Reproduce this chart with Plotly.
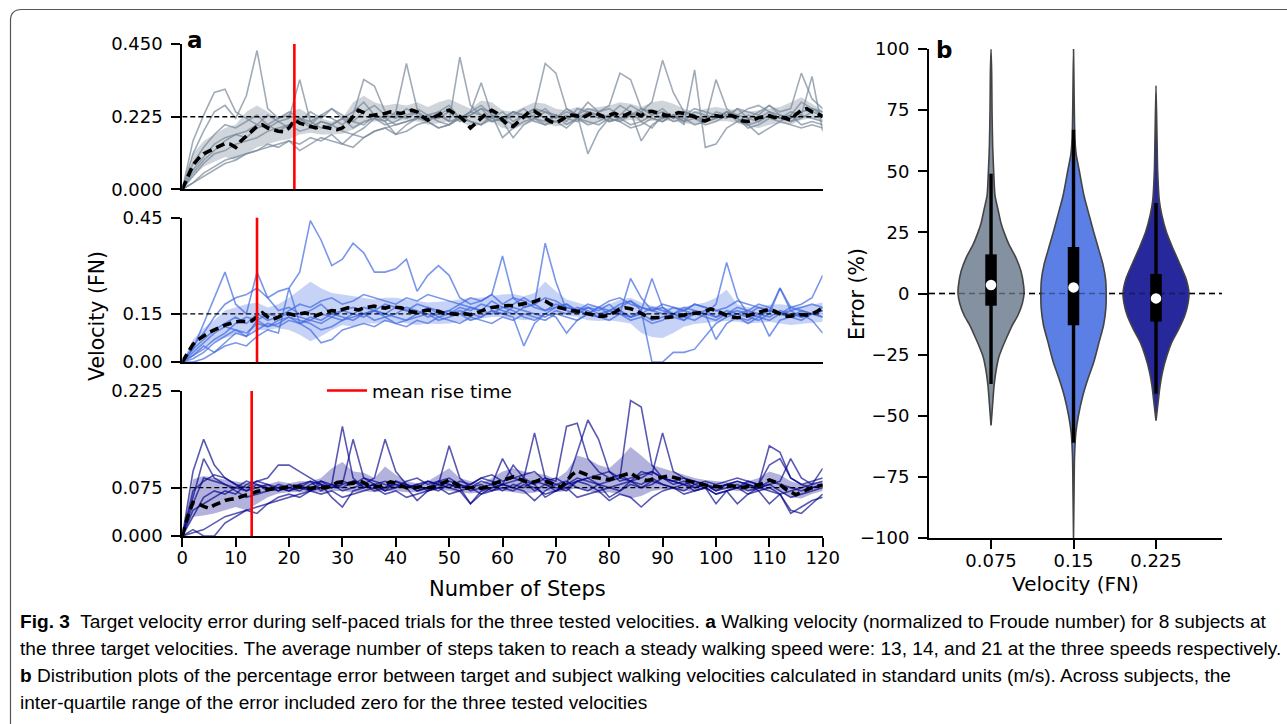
import plotly.graph_objects as go

W, H = 1287, 724
def px(x): return x / W
def py(y): return 1 - y / H

# ---------------- data ----------------
STEPS = list(range(0, 121))
SUBJ_STEPS = list(range(0, 121, 2))
TARGETS = [0.225, 0.15, 0.075]
RISE_TIMES = [21, 14, 13]
Y_MAX = [0.45, 0.45, 0.225]
Y_TICKS = [[0, 0.225, 0.45], [0, 0.15, 0.45], [0, 0.075, 0.225]]
Y_TICKTEXT = [["0.000", "0.225", "0.450"], ["0.00", "0.15", "0.45"], ["0.000", "0.075", "0.225"]]
X_TICKS = list(range(0, 121, 10))

# panel 1 (target 0.225) mean velocity, every step
P1_MEAN = [0.000, 0.040, 0.075, 0.095, 0.110, 0.118, 0.125, 0.135, 0.142, 0.140, 0.130,
           0.150, 0.165, 0.180, 0.195, 0.200, 0.190, 0.185, 0.180, 0.178, 0.190,
           0.215, 0.205, 0.200, 0.195, 0.190, 0.195, 0.192, 0.188, 0.185, 0.190,
           0.205, 0.225, 0.245, 0.238, 0.228, 0.230, 0.232, 0.235, 0.240, 0.238,
           0.235, 0.240, 0.245, 0.240, 0.225, 0.215, 0.222, 0.230, 0.242, 0.245,
           0.235, 0.225, 0.210, 0.190, 0.205, 0.220, 0.235, 0.245, 0.235, 0.215,
           0.200, 0.195, 0.210, 0.225, 0.240, 0.242, 0.230, 0.220, 0.210, 0.205,
           0.215, 0.225, 0.230, 0.228, 0.222, 0.230, 0.238, 0.232, 0.225, 0.230,
           0.235, 0.228, 0.230, 0.238, 0.235, 0.228, 0.240, 0.242, 0.238, 0.232,
           0.228, 0.232, 0.238, 0.235, 0.230, 0.225, 0.215, 0.212, 0.220, 0.228,
           0.225, 0.230, 0.228, 0.222, 0.212, 0.210, 0.215, 0.222, 0.225, 0.228,
           0.222, 0.225, 0.220, 0.215, 0.232, 0.245, 0.250, 0.240, 0.235, 0.225]
P1_BAND_LO = [0.000, 0.040, 0.070, 0.085, 0.100, 0.090, 0.110, 0.130, 0.140, 0.150,
              0.155, 0.170, 0.175, 0.170, 0.170, 0.172, 0.185, 0.205, 0.210, 0.212,
              0.210, 0.215, 0.210, 0.200, 0.205, 0.212, 0.210, 0.195, 0.200, 0.210,
              0.190, 0.185, 0.200, 0.210, 0.205, 0.195, 0.200, 0.210, 0.205, 0.210,
              0.212, 0.210, 0.215, 0.210, 0.212, 0.215, 0.210, 0.205, 0.200, 0.205,
              0.210, 0.212, 0.205, 0.195, 0.190, 0.200, 0.205, 0.200, 0.215, 0.220,
              0.210]
P1_BAND_HI = [0.000, 0.110, 0.150, 0.170, 0.190, 0.200, 0.240, 0.260, 0.240, 0.220,
              0.240, 0.250, 0.230, 0.220, 0.210, 0.220, 0.270, 0.290, 0.270, 0.260,
              0.265, 0.260, 0.270, 0.255, 0.270, 0.280, 0.265, 0.250, 0.275, 0.270,
              0.245, 0.240, 0.255, 0.270, 0.265, 0.250, 0.245, 0.255, 0.250, 0.255,
              0.260, 0.270, 0.265, 0.255, 0.270, 0.275, 0.265, 0.250, 0.240, 0.250,
              0.255, 0.250, 0.245, 0.240, 0.245, 0.250, 0.255, 0.270, 0.285, 0.265,
              0.245]
P1_SUBJECTS = [
    [0.000, 0.110, 0.180, 0.240, 0.260, 0.220, 0.290, 0.430, 0.250, 0.220,
     0.230, 0.210, 0.240, 0.220, 0.250, 0.230, 0.210, 0.240, 0.260, 0.230,
     0.220, 0.250, 0.230, 0.210, 0.240, 0.260, 0.220, 0.230, 0.250, 0.240,
     0.210, 0.230, 0.250, 0.220, 0.240, 0.230, 0.210, 0.250, 0.240, 0.220,
     0.230, 0.260, 0.240, 0.210, 0.230, 0.250, 0.220, 0.240, 0.230, 0.210,
     0.240, 0.230, 0.250, 0.220, 0.240, 0.260, 0.230, 0.220, 0.240, 0.250,
     0.230],
    [0.000, 0.020, 0.040, 0.060, 0.080, 0.090, 0.110, 0.120, 0.130, 0.140,
     0.150, 0.140, 0.160, 0.150, 0.170, 0.140, 0.130, 0.160, 0.180, 0.190,
     0.200, 0.210, 0.220, 0.230, 0.210, 0.200, 0.220, 0.240, 0.230, 0.210,
     0.220, 0.200, 0.230, 0.240, 0.220, 0.210, 0.230, 0.220, 0.200, 0.210,
     0.230, 0.220, 0.240, 0.150, 0.200, 0.220, 0.230, 0.210, 0.220, 0.200,
     0.210, 0.230, 0.220, 0.190, 0.200, 0.220, 0.210, 0.230, 0.200, 0.210,
     0.200],
    [0.000, 0.150, 0.230, 0.300, 0.310, 0.240, 0.220, 0.200, 0.230, 0.210,
     0.190, 0.220, 0.200, 0.230, 0.250, 0.220, 0.240, 0.270, 0.230, 0.210,
     0.240, 0.390, 0.250, 0.230, 0.220, 0.240, 0.210, 0.230, 0.250, 0.220,
     0.240, 0.210, 0.230, 0.250, 0.240, 0.220, 0.250, 0.230, 0.270, 0.240,
     0.250, 0.230, 0.260, 0.240, 0.270, 0.400, 0.300, 0.240, 0.230, 0.210,
     0.220, 0.240, 0.230, 0.250, 0.260, 0.240, 0.220, 0.230, 0.270, 0.250,
     0.240],
    [0.000, 0.060, 0.100, 0.140, 0.160, 0.170, 0.180, 0.200, 0.190, 0.210,
     0.220, 0.340, 0.210, 0.190, 0.200, 0.220, 0.210, 0.200, 0.230, 0.220,
     0.200, 0.210, 0.220, 0.230, 0.240, 0.210, 0.410, 0.260, 0.230, 0.210,
     0.220, 0.240, 0.230, 0.210, 0.200, 0.230, 0.220, 0.210, 0.240, 0.230,
     0.210, 0.220, 0.230, 0.240, 0.220, 0.210, 0.230, 0.240, 0.220, 0.210,
     0.220, 0.240, 0.230, 0.220, 0.210, 0.230, 0.220, 0.240, 0.230, 0.220,
     0.210],
    [0.000, 0.040, 0.080, 0.110, 0.120, 0.140, 0.150, 0.160, 0.180, 0.190,
     0.200, 0.180, 0.190, 0.210, 0.200, 0.220, 0.190, 0.210, 0.220, 0.200,
     0.210, 0.230, 0.240, 0.220, 0.230, 0.210, 0.220, 0.240, 0.260, 0.230,
     0.220, 0.240, 0.230, 0.250, 0.390, 0.360, 0.250, 0.230, 0.110, 0.180,
     0.220, 0.210, 0.230, 0.250, 0.240, 0.220, 0.230, 0.210, 0.240, 0.230,
     0.220, 0.240, 0.210, 0.230, 0.220, 0.240, 0.230, 0.210, 0.220, 0.240,
     0.230],
    [0.000, 0.080, 0.130, 0.170, 0.200, 0.190, 0.210, 0.230, 0.200, 0.220,
     0.240, 0.220, 0.210, 0.230, 0.220, 0.200, 0.230, 0.340, 0.320, 0.240,
     0.230, 0.220, 0.240, 0.210, 0.230, 0.250, 0.220, 0.240, 0.330, 0.230,
     0.210, 0.240, 0.220, 0.230, 0.250, 0.220, 0.240, 0.230, 0.250, 0.240,
     0.260, 0.360, 0.340, 0.250, 0.230, 0.240, 0.220, 0.230, 0.250, 0.240,
     0.230, 0.220, 0.250, 0.240, 0.230, 0.260, 0.240, 0.250, 0.360, 0.280,
     0.250],
    [0.000, 0.020, 0.050, 0.070, 0.090, 0.100, 0.110, 0.120, 0.140, 0.130,
     0.150, 0.120, 0.140, 0.160, 0.150, 0.140, 0.170, 0.160, 0.180, 0.190,
     0.170, 0.180, 0.200, 0.210, 0.190, 0.200, 0.220, 0.210, 0.200, 0.230,
     0.160, 0.190, 0.210, 0.220, 0.200, 0.210, 0.190, 0.220, 0.210, 0.200,
     0.220, 0.210, 0.190, 0.200, 0.220, 0.210, 0.230, 0.200, 0.370, 0.130,
     0.140, 0.190, 0.210, 0.200, 0.170, 0.190, 0.210, 0.200, 0.190, 0.200,
     0.190],
    [0.000, 0.050, 0.090, 0.120, 0.150, 0.170, 0.160, 0.190, 0.200, 0.180,
     0.200, 0.220, 0.190, 0.210, 0.200, 0.180, 0.170, 0.190, 0.220, 0.210,
     0.170, 0.200, 0.220, 0.210, 0.190, 0.200, 0.230, 0.210, 0.200, 0.220,
     0.210, 0.160, 0.200, 0.220, 0.210, 0.230, 0.200, 0.220, 0.240, 0.230,
     0.210, 0.220, 0.200, 0.210, 0.190, 0.230, 0.210, 0.220, 0.200, 0.210,
     0.340, 0.250, 0.220, 0.200, 0.210, 0.230, 0.220, 0.210, 0.230, 0.350,
     0.180],
]

# panel 2 (target 0.15)
P2_MEAN = [0.000, 0.030, 0.055, 0.070, 0.082, 0.092, 0.100, 0.108, 0.115, 0.120, 0.125,
           0.127, 0.126, 0.128, 0.140, 0.153, 0.140, 0.133, 0.140, 0.148, 0.150,
           0.146, 0.150, 0.153, 0.148, 0.144, 0.150, 0.156, 0.160, 0.158, 0.165,
           0.169, 0.166, 0.162, 0.168, 0.172, 0.174, 0.170, 0.168, 0.172, 0.170,
           0.169, 0.162, 0.156, 0.154, 0.158, 0.162, 0.160, 0.158, 0.152, 0.150,
           0.150, 0.148, 0.150, 0.147, 0.152, 0.160, 0.165, 0.170, 0.172, 0.174,
           0.176, 0.175, 0.178, 0.182, 0.184, 0.188, 0.195, 0.190, 0.180, 0.172,
           0.168, 0.163, 0.160, 0.158, 0.156, 0.150, 0.146, 0.143, 0.143, 0.146,
           0.155, 0.165, 0.169, 0.166, 0.160, 0.150, 0.142, 0.138, 0.138, 0.140,
           0.139, 0.141, 0.143, 0.146, 0.150, 0.152, 0.153, 0.158, 0.165, 0.160,
           0.152, 0.145, 0.140, 0.138, 0.140, 0.145, 0.150, 0.153, 0.158, 0.164,
           0.158, 0.150, 0.143, 0.143, 0.145, 0.148, 0.146, 0.150, 0.158, 0.169]
P2_BAND_LO = [0.000, 0.020, 0.045, 0.065, 0.075, 0.085, 0.095, 0.100, 0.100, 0.105,
              0.100, 0.085, 0.065, 0.080, 0.100, 0.115, 0.110, 0.120, 0.120, 0.125,
              0.125, 0.120, 0.115, 0.120, 0.118, 0.120, 0.125, 0.128, 0.135, 0.140,
              0.140, 0.135, 0.130, 0.135, 0.150, 0.150, 0.145, 0.140, 0.130, 0.128,
              0.130, 0.125, 0.120, 0.090, 0.078, 0.075, 0.090, 0.110, 0.118, 0.122,
              0.125, 0.128, 0.125, 0.120, 0.122, 0.125, 0.120, 0.115, 0.118, 0.122,
              0.125]
P2_BAND_HI = [0.000, 0.070, 0.105, 0.130, 0.160, 0.170, 0.180, 0.185, 0.170, 0.180,
              0.200, 0.225, 0.250, 0.230, 0.215, 0.210, 0.205, 0.200, 0.195, 0.200,
              0.200, 0.195, 0.190, 0.185, 0.188, 0.190, 0.195, 0.200, 0.200, 0.205,
              0.210, 0.212, 0.205, 0.215, 0.250, 0.220, 0.195, 0.185, 0.175, 0.172,
              0.180, 0.195, 0.200, 0.185, 0.175, 0.170, 0.168, 0.172, 0.178, 0.185,
              0.200, 0.225, 0.180, 0.170, 0.172, 0.178, 0.180, 0.175, 0.172, 0.178,
              0.185]
P2_SUBJECTS = [
    [0.000, 0.050, 0.090, 0.140, 0.180, 0.200, 0.210, 0.230, 0.200, 0.220,
     0.230, 0.280, 0.440, 0.380, 0.300, 0.320, 0.370, 0.340, 0.280, 0.280,
     0.290, 0.320, 0.220, 0.270, 0.300, 0.270, 0.200, 0.180, 0.190, 0.210,
     0.330, 0.200, 0.170, 0.180, 0.200, 0.190, 0.170, 0.160, 0.180, 0.170,
     0.160, 0.180, 0.190, 0.170, 0.160, 0.170, 0.150, 0.160, 0.180, 0.170,
     0.160, 0.150, 0.170, 0.160, 0.180, 0.170, 0.150, 0.160, 0.170, 0.180,
     0.170],
    [0.000, 0.040, 0.120, 0.200, 0.280, 0.180, 0.150, 0.280, 0.200, 0.160,
     0.170, 0.150, 0.160, 0.180, 0.150, 0.160, 0.170, 0.150, 0.160, 0.180,
     0.170, 0.160, 0.150, 0.170, 0.160, 0.150, 0.170, 0.160, 0.180, 0.170,
     0.160, 0.150, 0.170, 0.180, 0.160, 0.170, 0.180, 0.160, 0.170, 0.150,
     0.160, 0.170, 0.190, 0.160, 0.000, 0.000, 0.030, 0.030, 0.040, 0.080,
     0.120, 0.140, 0.150, 0.160, 0.150, 0.140, 0.160, 0.150, 0.140, 0.150,
     0.160],
    [0.000, 0.010, 0.030, 0.060, 0.080, 0.100, 0.090, 0.120, 0.110, 0.130,
     0.140, 0.120, 0.130, 0.150, 0.140, 0.160, 0.150, 0.170, 0.160, 0.150,
     0.170, 0.160, 0.180, 0.170, 0.150, 0.160, 0.180, 0.170, 0.160, 0.190,
     0.170, 0.180, 0.200, 0.180, 0.370, 0.250, 0.160, 0.150, 0.170, 0.160,
     0.180, 0.150, 0.260, 0.200, 0.160, 0.150, 0.170, 0.160, 0.150, 0.160,
     0.140, 0.150, 0.160, 0.150, 0.170, 0.160, 0.150, 0.140, 0.160, 0.150,
     0.170],
    [0.000, 0.020, 0.050, 0.030, 0.060, 0.090, 0.080, 0.100, 0.120, 0.110,
     0.130, 0.120, 0.140, 0.130, 0.150, 0.140, 0.130, 0.150, 0.160, 0.140,
     0.150, 0.170, 0.160, 0.140, 0.150, 0.160, 0.150, 0.170, 0.160, 0.150,
     0.170, 0.160, 0.140, 0.130, 0.150, 0.170, 0.180, 0.160, 0.150, 0.170,
     0.150, 0.160, 0.140, 0.150, 0.170, 0.160, 0.150, 0.170, 0.160, 0.150,
     0.180, 0.310, 0.200, 0.150, 0.140, 0.160, 0.150, 0.170, 0.160, 0.150,
     0.140],
    [0.000, 0.030, 0.060, 0.090, 0.110, 0.100, 0.080, 0.130, 0.110, 0.120,
     0.140, 0.130, 0.120, 0.100, 0.110, 0.130, 0.140, 0.150, 0.130, 0.140,
     0.120, 0.130, 0.140, 0.150, 0.130, 0.140, 0.150, 0.130, 0.140, 0.160,
     0.150, 0.140, 0.050, 0.120, 0.150, 0.140, 0.090, 0.130, 0.150, 0.140,
     0.160, 0.150, 0.130, 0.140, 0.120, 0.130, 0.150, 0.140, 0.130, 0.150,
     0.070, 0.120, 0.140, 0.130, 0.150, 0.080, 0.130, 0.140, 0.150, 0.130,
     0.090],
    [0.000, 0.020, 0.040, 0.070, 0.090, 0.120, 0.140, 0.130, 0.150, 0.140,
     0.160, 0.180, 0.170, 0.190, 0.200, 0.180, 0.190, 0.210, 0.200, 0.190,
     0.180, 0.200, 0.190, 0.210, 0.200, 0.190, 0.180, 0.200, 0.190, 0.210,
     0.180, 0.200, 0.190, 0.170, 0.160, 0.180, 0.170, 0.160, 0.150, 0.170,
     0.190, 0.200, 0.180, 0.170, 0.160, 0.180, 0.170, 0.160, 0.180, 0.170,
     0.160, 0.170, 0.190, 0.180, 0.170, 0.160, 0.230, 0.170, 0.180, 0.200,
     0.270],
    [0.000, 0.000, 0.010, 0.030, 0.050, 0.060, 0.050, 0.080, 0.100, 0.090,
     0.230, 0.120, 0.100, 0.060, 0.070, 0.100, 0.110, 0.120, 0.110, 0.130,
     0.120, 0.110, 0.130, 0.120, 0.140, 0.130, 0.120, 0.140, 0.130, 0.120,
     0.140, 0.130, 0.150, 0.140, 0.130, 0.150, 0.140, 0.130, 0.150, 0.140,
     0.130, 0.150, 0.140, 0.160, 0.260, 0.170, 0.140, 0.130, 0.150, 0.140,
     0.130, 0.150, 0.140, 0.120, 0.140, 0.130, 0.150, 0.140, 0.130, 0.150,
     0.140],
    [0.000, 0.040, 0.070, 0.100, 0.120, 0.140, 0.120, 0.150, 0.130, 0.140,
     0.150, 0.140, 0.130, 0.120, 0.140, 0.130, 0.150, 0.140, 0.160, 0.150,
     0.140, 0.130, 0.150, 0.160, 0.140, 0.150, 0.160, 0.150, 0.140, 0.160,
     0.150, 0.170, 0.160, 0.150, 0.140, 0.160, 0.150, 0.170, 0.160, 0.140,
     0.150, 0.160, 0.140, 0.150, 0.130, 0.140, 0.150, 0.130, 0.160, 0.150,
     0.140, 0.160, 0.150, 0.140, 0.130, 0.150, 0.230, 0.160, 0.140, 0.150,
     0.160],
]

# panel 3 (target 0.075)
P3_MEAN = [0.000, 0.030, 0.052, 0.050, 0.046, 0.043, 0.048, 0.052, 0.055, 0.057, 0.058,
           0.061, 0.064, 0.066, 0.069, 0.071, 0.072, 0.072, 0.073, 0.074, 0.075,
           0.077, 0.076, 0.075, 0.074, 0.075, 0.075, 0.075, 0.078, 0.083, 0.084,
           0.081, 0.082, 0.086, 0.083, 0.078, 0.076, 0.077, 0.080, 0.084, 0.082,
           0.078, 0.075, 0.074, 0.076, 0.077, 0.075, 0.076, 0.079, 0.083, 0.087,
           0.082, 0.077, 0.074, 0.075, 0.076, 0.074, 0.076, 0.080, 0.083, 0.087,
           0.089, 0.092, 0.089, 0.086, 0.082, 0.084, 0.087, 0.085, 0.082, 0.078,
           0.076, 0.085, 0.095, 0.101, 0.098, 0.094, 0.091, 0.090, 0.088, 0.087,
           0.090, 0.093, 0.096, 0.098, 0.092, 0.088, 0.086, 0.088, 0.090, 0.092,
           0.093, 0.091, 0.089, 0.087, 0.085, 0.083, 0.080, 0.079, 0.078, 0.077,
           0.076, 0.077, 0.078, 0.076, 0.075, 0.077, 0.078, 0.079, 0.083, 0.087,
           0.084, 0.080, 0.073, 0.068, 0.064, 0.068, 0.072, 0.075, 0.077, 0.079]
P3_BAND_LO = [0.000, 0.030, 0.032, 0.035, 0.040, 0.045, 0.040, 0.050, 0.060, 0.066,
              0.068, 0.068, 0.070, 0.068, 0.070, 0.070, 0.068, 0.070, 0.068, 0.070,
              0.070, 0.068, 0.068, 0.070, 0.072, 0.070, 0.068, 0.066, 0.068, 0.070,
              0.070, 0.068, 0.065, 0.068, 0.070, 0.068, 0.070, 0.075, 0.070, 0.066,
              0.068, 0.065, 0.058, 0.062, 0.070, 0.072, 0.072, 0.070, 0.070, 0.072,
              0.070, 0.072, 0.070, 0.070, 0.070, 0.072, 0.068, 0.060, 0.058, 0.065,
              0.070]
P3_BAND_HI = [0.000, 0.088, 0.093, 0.090, 0.088, 0.085, 0.082, 0.080, 0.080, 0.085,
              0.082, 0.085, 0.085, 0.090, 0.105, 0.115, 0.100, 0.098, 0.090, 0.108,
              0.095, 0.085, 0.082, 0.085, 0.095, 0.105, 0.090, 0.085, 0.082, 0.090,
              0.100, 0.105, 0.100, 0.098, 0.095, 0.088, 0.100, 0.125, 0.120, 0.110,
              0.105, 0.120, 0.138, 0.125, 0.110, 0.105, 0.100, 0.095, 0.090, 0.087,
              0.085, 0.083, 0.082, 0.085, 0.090, 0.100, 0.095, 0.085, 0.080, 0.083,
              0.085]
P3_SUBJECTS = [
    [0.000, 0.100, 0.150, 0.110, 0.090, 0.080, 0.070, 0.075, 0.080, 0.070,
     0.075, 0.080, 0.070, 0.085, 0.080, 0.170, 0.090, 0.075, 0.080, 0.070,
     0.085, 0.075, 0.080, 0.070, 0.075, 0.085, 0.080, 0.070, 0.075, 0.080,
     0.070, 0.080, 0.075, 0.085, 0.080, 0.070, 0.080, 0.130, 0.180, 0.150,
     0.100, 0.090, 0.210, 0.200, 0.110, 0.090, 0.080, 0.085, 0.075, 0.080,
     0.070, 0.080, 0.075, 0.085, 0.080, 0.140, 0.130, 0.090, 0.080, 0.075,
     0.080],
    [0.000, 0.060, 0.120, 0.090, 0.080, 0.075, 0.085, 0.080, 0.070, 0.080,
     0.075, 0.070, 0.080, 0.085, 0.075, 0.080, 0.150, 0.090, 0.080, 0.075,
     0.085, 0.080, 0.070, 0.075, 0.085, 0.080, 0.075, 0.080, 0.090, 0.085,
     0.080, 0.110, 0.090, 0.160, 0.090, 0.080, 0.075, 0.085, 0.090, 0.080,
     0.085, 0.090, 0.085, 0.100, 0.095, 0.160, 0.100, 0.090, 0.085, 0.080,
     0.075, 0.080, 0.085, 0.080, 0.075, 0.080, 0.085, 0.120, 0.090, 0.080,
     0.105],
    [0.000, 0.030, 0.060, 0.070, 0.065, 0.075, 0.070, 0.080, 0.075, 0.070,
     0.080, 0.075, 0.085, 0.070, 0.080, 0.075, 0.085, 0.080, 0.090, 0.150,
     0.100, 0.080, 0.075, 0.085, 0.080, 0.140, 0.090, 0.075, 0.080, 0.070,
     0.080, 0.075, 0.085, 0.070, 0.080, 0.075, 0.070, 0.085, 0.080, 0.070,
     0.075, 0.080, 0.085, 0.075, 0.080, 0.090, 0.085, 0.080, 0.075, 0.080,
     0.070, 0.075, 0.080, 0.070, 0.075, 0.080, 0.070, 0.060, 0.065, 0.070,
     0.075],
    [0.000, 0.005, 0.010, 0.020, 0.030, 0.035, 0.040, 0.045, 0.050, 0.055,
     0.060, 0.065, 0.070, 0.075, 0.080, 0.070, 0.075, 0.080, 0.070, 0.075,
     0.080, 0.075, 0.055, 0.070, 0.080, 0.075, 0.070, 0.050, 0.065, 0.075,
     0.080, 0.085, 0.090, 0.080, 0.060, 0.070, 0.080, 0.090, 0.085, 0.080,
     0.060, 0.070, 0.085, 0.080, 0.090, 0.080, 0.075, 0.080, 0.070, 0.075,
     0.065, 0.070, 0.050, 0.065, 0.075, 0.070, 0.065, 0.040, 0.035, 0.050,
     0.065],
    [0.000, 0.040, 0.050, 0.060, 0.070, 0.065, 0.080, 0.085, 0.090, 0.110,
     0.110, 0.100, 0.090, 0.080, 0.075, 0.085, 0.080, 0.090, 0.085, 0.080,
     0.075, 0.085, 0.090, 0.080, 0.085, 0.090, 0.080, 0.075, 0.085, 0.080,
     0.120, 0.090, 0.085, 0.080, 0.090, 0.085, 0.170, 0.175, 0.120, 0.100,
     0.090, 0.095, 0.085, 0.090, 0.100, 0.090, 0.085, 0.090, 0.080, 0.085,
     0.080, 0.085, 0.090, 0.085, 0.080, 0.110, 0.120, 0.090, 0.080, 0.085,
     0.090],
    [0.000, 0.050, 0.090, 0.085, 0.080, 0.070, 0.060, 0.065, 0.070, 0.075,
     0.070, 0.075, 0.070, 0.080, 0.060, 0.045, 0.070, 0.075, 0.080, 0.070,
     0.075, 0.080, 0.070, 0.075, 0.070, 0.080, 0.075, 0.050, 0.070, 0.075,
     0.080, 0.075, 0.070, 0.055, 0.070, 0.080, 0.085, 0.075, 0.070, 0.080,
     0.075, 0.070, 0.080, 0.075, 0.085, 0.080, 0.075, 0.070, 0.080, 0.075,
     0.050, 0.070, 0.075, 0.080, 0.070, 0.050, 0.065, 0.070, 0.075, 0.080,
     0.085],
    [0.000, 0.010, 0.000, 0.000, 0.020, 0.030, 0.040, 0.035, 0.050, 0.060,
     0.065, 0.060, 0.070, 0.065, 0.070, 0.060, 0.065, 0.070, 0.075, 0.065,
     0.070, 0.060, 0.065, 0.070, 0.075, 0.065, 0.070, 0.075, 0.065, 0.070,
     0.075, 0.070, 0.080, 0.075, 0.065, 0.070, 0.075, 0.060, 0.065, 0.070,
     0.055, 0.065, 0.060, 0.045, 0.060, 0.070, 0.075, 0.065, 0.070, 0.075,
     0.065, 0.070, 0.075, 0.065, 0.070, 0.075, 0.065, 0.035, 0.045, 0.055,
     0.060],
    [0.000, 0.070, 0.085, 0.095, 0.090, 0.080, 0.075, 0.085, 0.080, 0.075,
     0.070, 0.080, 0.085, 0.080, 0.075, 0.080, 0.085, 0.075, 0.080, 0.085,
     0.080, 0.075, 0.080, 0.085, 0.080, 0.075, 0.085, 0.080, 0.090, 0.095,
     0.085, 0.090, 0.095, 0.100, 0.085, 0.090, 0.080, 0.085, 0.090, 0.095,
     0.100, 0.085, 0.090, 0.095, 0.100, 0.090, 0.085, 0.080, 0.085, 0.080,
     0.075, 0.080, 0.085, 0.080, 0.075, 0.085, 0.080, 0.075, 0.070, 0.075,
     0.080],
]

# violin panel: error (%) distribution profiles (level, half-width in category units)
VIOLIN_CATS = ["0.075", "0.15", "0.225"]
V1_LEVELS = [100, 90, 75, 60, 50, 40, 34, 29, 25, 20, 15, 9, 3, 0, -4, -9, -13, -18, -22, -26, -32, -38, -45, -54]
V1_HALF = [0, 0.008, 0.012, 0.02, 0.032, 0.048, 0.087, 0.119, 0.158, 0.218, 0.297, 0.364, 0.396, 0.40,
           0.38, 0.325, 0.257, 0.19, 0.139, 0.095, 0.059, 0.036, 0.02, 0]
V2_LEVELS = [100, 79, 64, 57, 50, 40, 31, 25, 19, 12, 6, 0, -6, -13, -20, -28, -35, -42, -50, -57, -67, -82, -100]
V2_HALF = [0, 0.008, 0.016, 0.032, 0.071, 0.127, 0.198, 0.246, 0.297, 0.356, 0.388, 0.396, 0.392, 0.364,
           0.309, 0.246, 0.174, 0.111, 0.059, 0.028, 0.012, 0.006, 0]
V3_LEVELS = [85, 64, 50, 38, 32, 25, 19, 13, 6, 0, -4, -9, -15, -20, -26, -32, -38, -45, -52]
V3_HALF = [0, 0.012, 0.02, 0.04, 0.071, 0.127, 0.198, 0.277, 0.364, 0.40, 0.388, 0.349, 0.269, 0.19,
           0.127, 0.079, 0.048, 0.024, 0]
BOX_Q1 = [-5, -13, -11.5]
BOX_Q3 = [16, 19, 8]
WHISK_LO = [-37, -61, -41]
WHISK_HI = [49, 67, 37]
MEDIANS = [3.5, 2.5, -2]

# ---------------- styling ----------------
FONT = "DejaVu Sans"
LINE_COL = ["rgba(119,136,153,0.7)", "rgba(65,105,225,0.7)", "rgba(0,0,139,0.65)"]
BAND_COL = ["rgba(119,136,153,0.35)", "rgba(65,105,225,0.3)", "rgba(0,0,139,0.3)"]
VIOLIN_FILL = ["#8391a0", "#5b7fe4", "#26289c"]

X_DOM = [px(182.3), px(822.7)]
Y_DOMS = [[py(189.3), py(44.1)], [py(362.0), py(217.5)], [py(536.0), py(391.0)]]

fig = go.Figure()

panels = [(P1_MEAN, P1_BAND_LO, P1_BAND_HI, P1_SUBJECTS),
          (P2_MEAN, P2_BAND_LO, P2_BAND_HI, P2_SUBJECTS),
          (P3_MEAN, P3_BAND_LO, P3_BAND_HI, P3_SUBJECTS)]

for k, (mean, lo, hi, subs) in enumerate(panels):
    xa = "x" if k == 0 else f"x{k+1}"
    ya = "y" if k == 0 else f"y{k+1}"
    fig.add_trace(go.Scatter(x=SUBJ_STEPS + SUBJ_STEPS[::-1], y=hi + lo[::-1], fill="toself",
                             fillcolor=BAND_COL[k], line=dict(width=0), mode="lines",
                             xaxis=xa, yaxis=ya, showlegend=False, hoverinfo="skip"))
    for s in subs:
        fig.add_trace(go.Scatter(x=SUBJ_STEPS, y=s, mode="lines",
                                 line=dict(color=LINE_COL[k], width=1.6),
                                 xaxis=xa, yaxis=ya, showlegend=False))
    fig.add_trace(go.Scatter(x=[0, 120], y=[TARGETS[k], TARGETS[k]], mode="lines",
                             line=dict(color="black", width=1.4, dash="5px,3px"),
                             xaxis=xa, yaxis=ya, showlegend=False))
    fig.add_trace(go.Scatter(x=STEPS, y=mean, mode="lines",
                             line=dict(color="black", width=3.6, dash="9px,5px"),
                             xaxis=xa, yaxis=ya, showlegend=False))
    fig.add_trace(go.Scatter(x=[RISE_TIMES[k], RISE_TIMES[k]], y=[0, Y_MAX[k]], mode="lines",
                             line=dict(color="red", width=2.6), name="mean rise time",
                             xaxis=xa, yaxis=ya, showlegend=(k == 0)))

# violins
fig.add_trace(go.Scatter(x=[-0.752, 2.8], y=[0, 0], mode="lines",
                         line=dict(color="black", width=1.6, dash="6px,4px"),
                         xaxis="x4", yaxis="y4", showlegend=False))
for c, (lev, half) in enumerate([(V1_LEVELS, V1_HALF), (V2_LEVELS, V2_HALF), (V3_LEVELS, V3_HALF)]):
    xs = [c + h for h in half] + [c - h for h in half[::-1]]
    ys = lev + lev[::-1]
    fig.add_trace(go.Scatter(x=xs, y=ys, fill="toself", fillcolor=VIOLIN_FILL[c], mode="lines",
                             line=dict(color="#444444", width=1.6, shape="spline", smoothing=0.6),
                             xaxis="x4", yaxis="y4", showlegend=False))
fig.add_trace(go.Scatter(x=[-0.752, 2.8], y=[0, 0], mode="lines",
                         line=dict(color="rgba(0,0,0,0.35)", width=1.6, dash="6px,4px"),
                         xaxis="x4", yaxis="y4", showlegend=False))
for c in range(3):
    fig.add_trace(go.Scatter(x=[c, c], y=[WHISK_LO[c], WHISK_HI[c]], mode="lines",
                             line=dict(color="black", width=3.4), xaxis="x4", yaxis="y4", showlegend=False))
    fig.add_trace(go.Scatter(x=[c, c], y=[BOX_Q1[c], BOX_Q3[c]], mode="lines",
                             line=dict(color="black", width=11.5), xaxis="x4", yaxis="y4", showlegend=False))
    fig.add_trace(go.Scatter(x=[c], y=[MEDIANS[c]], mode="markers",
                             marker=dict(color="white", size=10.5), xaxis="x4", yaxis="y4", showlegend=False))

axis_common = dict(showline=True, linecolor="black", linewidth=2, showgrid=False, zeroline=False,
                   automargin=False, tickcolor="black", tickwidth=1.6, ticklen=9,
                   ticklabelstandoff=5,
                   tickfont=dict(family=FONT, size=18, color="black"))

layout = dict(
    template="none",
    width=W, height=H, margin=dict(l=0, r=0, t=0, b=0, pad=0, autoexpand=False),
    paper_bgcolor="white", plot_bgcolor="white",
    font=dict(family=FONT, color="black"),
    showlegend=True,
    legend=dict(x=px(322), y=py(391), xanchor="left", yanchor="middle", itemwidth=40,
                bgcolor="rgba(0,0,0,0)", borderwidth=0,
                font=dict(family=FONT, size=18.5, color="black")),
)
for k in range(3):
    xs = "xaxis" if k == 0 else f"xaxis{k+1}"
    ys = "yaxis" if k == 0 else f"yaxis{k+1}"
    ya = "y" if k == 0 else f"y{k+1}"
    xa = "x" if k == 0 else f"x{k+1}"
    layout[xs] = dict(axis_common, domain=X_DOM, range=[0, 120], anchor=ya,
                      tickvals=X_TICKS, ticks="outside" if k == 2 else "",
                      showticklabels=(k == 2), ticklabelstandoff=-5)
    layout[ys] = dict(axis_common, domain=Y_DOMS[k], range=[0, Y_MAX[k]], anchor=xa,
                      tickvals=Y_TICKS[k], ticktext=Y_TICKTEXT[k], ticks="outside")
layout["xaxis4"] = dict(axis_common, domain=[px(929), px(1222)], range=[-0.752, 2.8], anchor="y4",
                        tickvals=[0, 1, 2], ticktext=VIOLIN_CATS, ticks="outside",
                        ticklabelstandoff=-4)
layout["yaxis4"] = dict(axis_common, domain=[py(538), py(49)], range=[-100, 100], anchor="x4",
                        tickvals=[-100, -75, -50, -25, 0, 25, 50, 75, 100], ticks="outside")

ann = []
def A(x, y, text, size, **kw):
    d = dict(x=px(x), y=py(y), xref="paper", yref="paper", text=text, showarrow=False,
             xanchor="center", yanchor="middle",
             font=dict(family=kw.pop("family", FONT), size=size, color="black"))
    d.update(kw)
    ann.append(d)

A(195, 40, "<b>a</b>", 23)
A(944, 50, "<b>b</b>", 23)
A(97, 316, "Velocity (FN)", 20.5, textangle=-90)
A(517, 589, "Number of Steps", 21)
A(857, 294, "Error (%)", 20.5, textangle=-90)
A(1075, 584, "Velocity (FN)", 20)

CAP = "Liberation Sans"
cap_lines = [
    (621, "<b>Fig. 3</b>  Target velocity error during self-paced trials for the three tested velocities. <b>a</b> Walking velocity (normalized to Froude number) for 8 subjects at"),
    (648, "the three target velocities. The average number of steps taken to reach a steady walking speed were: 13, 14, and 21 at the three speeds respectively."),
    (675, "<b>b</b> Distribution plots of the percentage error between target and subject walking velocities calculated in standard units (m/s). Across subjects, the"),
    (702, "inter-quartile range of the error included zero for the three tested velocities"),
]
for y, t in cap_lines:
    A(18, y, t, 19.1, family=CAP, xanchor="left", align="left")

layout["annotations"] = ann

# rounded frame
x0, y0, r = 10.5, 9.5, 11
path = (f"M {px(x0)},{py(H + 5)} L {px(x0)},{py(y0 + r)} "
        f"Q {px(x0)},{py(y0)} {px(x0 + r)},{py(y0)} L {px(W + 5)},{py(y0)}")
layout["shapes"] = [dict(type="path", path=path, xref="paper", yref="paper",
                         line=dict(color="#555555", width=1.2))]

fig.update_layout(**layout)
fig.write_html("out.html")
